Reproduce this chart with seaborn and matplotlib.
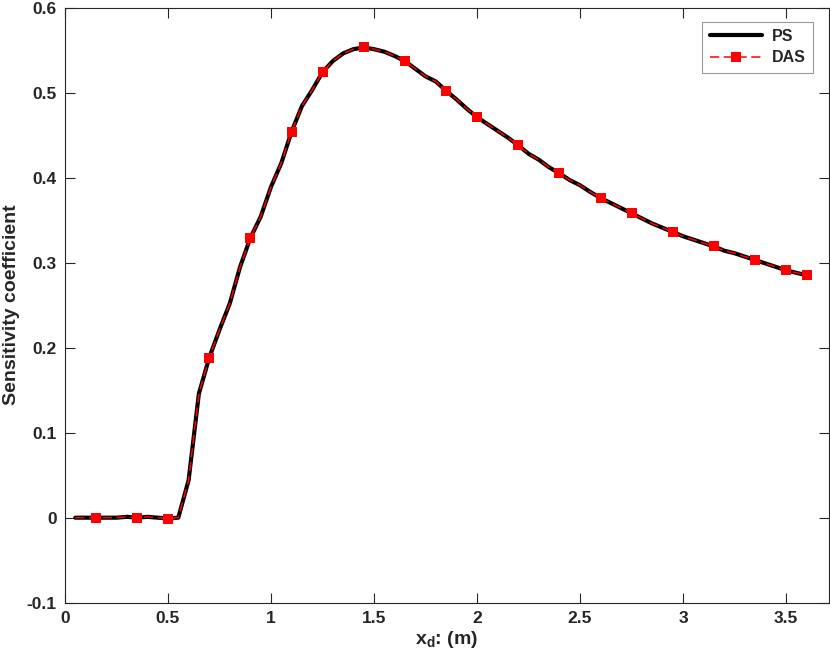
import numpy as np
import pandas as pd
import matplotlib
matplotlib.use("Agg")
import matplotlib.pyplot as plt
import seaborn as sns

# ---- data ----
x_vals = [0.05, 0.10, 0.15, 0.20, 0.25, 0.30, 0.35, 0.40, 0.45, 0.50,
          0.55, 0.60, 0.65, 0.70, 0.75, 0.80, 0.85, 0.90, 0.95, 1.00,
          1.05, 1.10, 1.15, 1.20, 1.25, 1.30, 1.35, 1.40, 1.45, 1.50,
          1.55, 1.60, 1.65, 1.70, 1.75, 1.80, 1.85, 1.90, 1.95, 2.00,
          2.05, 2.10, 2.15, 2.20, 2.25, 2.30, 2.35, 2.40, 2.45, 2.50,
          2.55, 2.60, 2.65, 2.70, 2.75, 2.80, 2.85, 2.90, 2.95, 3.00,
          3.05, 3.10, 3.15, 3.20, 3.25, 3.30, 3.35, 3.40, 3.45, 3.50,
          3.55, 3.60]
ps_vals = [0.000, 0.000, 0.000, 0.000, 0.000, 0.001, 0.000, 0.001, 0.000, -0.001,
           0.000, 0.044, 0.146, 0.188, 0.221, 0.252, 0.295, 0.329, 0.354, 0.389,
           0.417, 0.454, 0.484, 0.503, 0.524, 0.537, 0.546, 0.551, 0.553, 0.551,
           0.548, 0.543, 0.537, 0.528, 0.519, 0.513, 0.502, 0.492, 0.481, 0.471,
           0.463, 0.455, 0.447, 0.438, 0.428, 0.421, 0.412, 0.405, 0.397, 0.391,
           0.383, 0.376, 0.370, 0.364, 0.358, 0.352, 0.346, 0.341, 0.336, 0.331,
           0.327, 0.323, 0.319, 0.314, 0.311, 0.307, 0.303, 0.299, 0.295, 0.291,
           0.288, 0.285]
das_vals = list(ps_vals)
das_marker_x = [0.15, 0.35, 0.50, 0.70, 0.90, 1.10, 1.25, 1.45, 1.65, 1.85,
                2.00, 2.20, 2.40, 2.60, 2.75, 2.95, 3.15, 3.35, 3.50, 3.60]
x_ticks = [0, 0.5, 1, 1.5, 2, 2.5, 3, 3.5]
x_tick_labels = ["0", "0.5", "1", "1.5", "2", "2.5", "3", "3.5"]
y_ticks = [-0.1, 0, 0.1, 0.2, 0.3, 0.4, 0.5, 0.6]
y_tick_labels = ["-0.1", "0", "0.1", "0.2", "0.3", "0.4", "0.5", "0.6"]

df = pd.DataFrame({"x": x_vals, "PS": ps_vals, "DAS": das_vals})
mark_idx = [int(np.argmin(np.abs(np.array(x_vals) - m))) for m in das_marker_x]

# ---- style ----
sns.set_style("ticks")
plt.rcParams["font.family"] = ["Liberation Sans", "DejaVu Sans"]
plt.rcParams["font.weight"] = "bold"
plt.rcParams["mathtext.fontset"] = "custom"
plt.rcParams["mathtext.rm"] = "Liberation Sans:bold"
plt.rcParams["mathtext.bf"] = "Liberation Sans:bold"
plt.rcParams["mathtext.it"] = "Liberation Sans:bold"

axc = "#262626"
fig = plt.figure(figsize=(8.3, 6.64), dpi=100)
ax = fig.add_axes([0.0783, 0.0923, 0.9201, 0.8964])

sns.lineplot(data=df, x="x", y="PS", ax=ax, color="black", linewidth=3.0,
             label="PS", estimator=None, sort=False)
sns.lineplot(data=df, x="x", y="DAS", ax=ax, color="#ff0000", linewidth=1.1,
             linestyle=(0, (6, 3)), marker="s", markersize=7.5,
             markeredgewidth=0, markevery=mark_idx, label="DAS",
             estimator=None, sort=False)

ax.set_xlim(0, 3.707)
ax.set_ylim(-0.1, 0.6)
ax.set_xticks(x_ticks)
ax.set_xticklabels(x_tick_labels)
ax.set_yticks(y_ticks)
ax.set_yticklabels(y_tick_labels)
ax.tick_params(direction="in", length=7, width=0.8, color=axc,
               labelsize=12.5, labelcolor=axc, top=True, right=True, pad=6)
for lab in ax.get_xticklabels() + ax.get_yticklabels():
    lab.set_fontweight("bold")
for s in ax.spines.values():
    s.set_visible(True)
    s.set_color(axc)
    s.set_linewidth(0.8)

ax.set_xlabel(r"x$_\mathrm{d}$: (m)", fontsize=14, fontweight="bold",
              color=axc, labelpad=2)
ax.set_ylabel("Sensitivity coefficient", fontsize=14, fontweight="bold",
              color=axc, labelpad=5)

leg = ax.legend(loc="upper right", bbox_to_anchor=(0.9795, 0.976),
                frameon=True, fancybox=False, edgecolor="#808080",
                fontsize=11.5, handlelength=3.3, borderpad=0.45,
                labelspacing=0.4, handletextpad=0.6, borderaxespad=0)
leg.get_frame().set_linewidth(0.8)
for t in leg.get_texts():
    t.set_fontweight("bold")

fig.savefig("out.png", dpi=100)
